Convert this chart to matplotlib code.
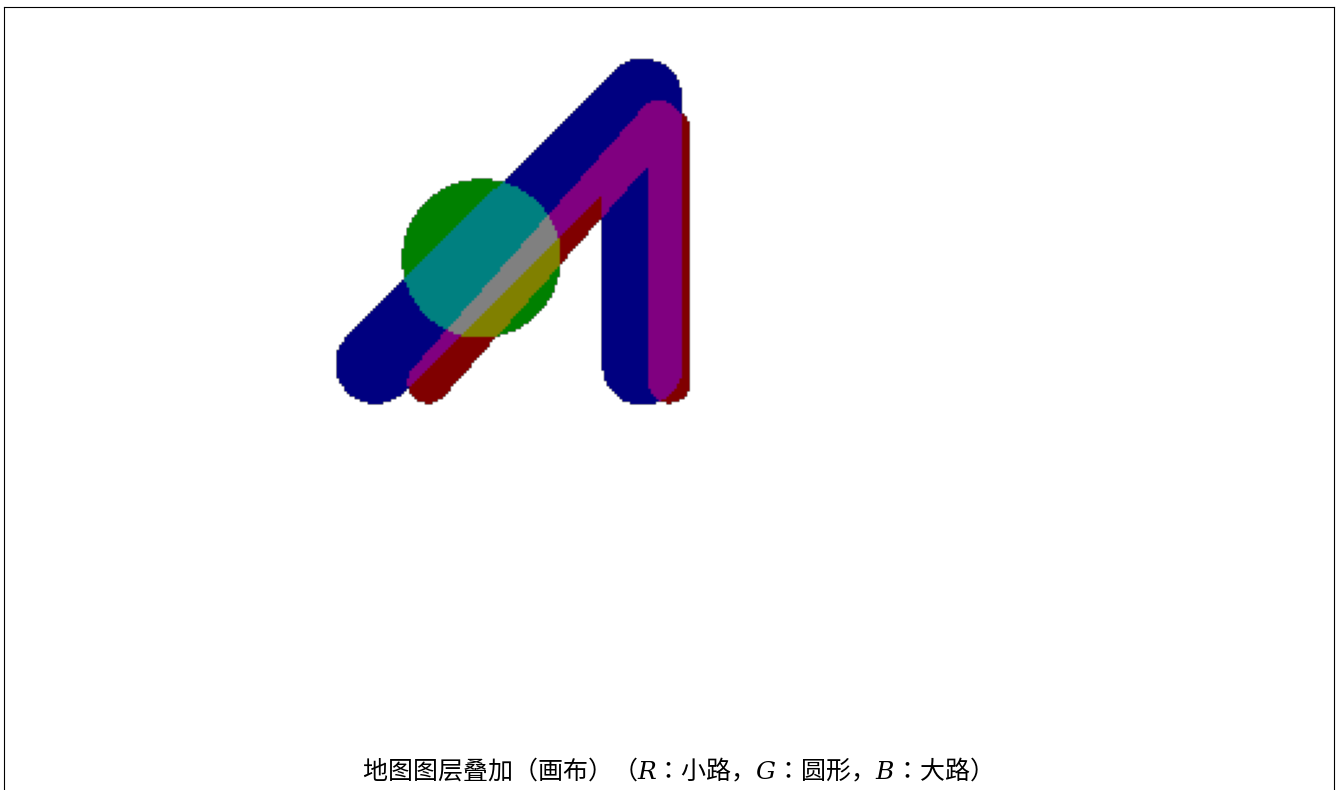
import matplotlib
matplotlib.use("Agg")

import numpy as np
import matplotlib.pyplot as plt

# canvas size (pixels) of the layered map
CANVAS = 512

# road / shape geometry in canvas pixel coordinates (x, y)
big_road = np.array([[142.5, 137.0], [245.3, 34.7], [245.3, 137.5]])
big_road_halfwidth = 15.4
small_road = np.array([[162.9, 144.0], [251.6, 43.6], [255.7, 47.0], [255.7, 144.0]])
small_road_halfwidth = 8.1
circle_center = (183.3, 96.3)
circle_radius = 30.6

channel_value = 128
title = "地图图层叠加（画布）（$R$：小路，$G$：圆形，$B$：大路）"

plt.rcParams["font.family"] = ["Noto Sans CJK JP", "DejaVu Sans"]
plt.rcParams["mathtext.fontset"] = "dejavuserif"

yy, xx = np.mgrid[0:CANVAS, 0:CANVAS].astype(float)


def polyline_mask(pts, hw):
    mask = np.zeros((CANVAS, CANVAS), dtype=bool)
    for (x0, y0), (x1, y1) in zip(pts[:-1], pts[1:]):
        dx, dy = x1 - x0, y1 - y0
        t = ((xx - x0) * dx + (yy - y0) * dy) / (dx * dx + dy * dy)
        t = np.clip(t, 0, 1)
        d = np.hypot(xx - (x0 + t * dx), yy - (y0 + t * dy))
        mask |= d <= hw
    return mask


red = polyline_mask(small_road, small_road_halfwidth)
green = np.hypot(xx - circle_center[0], yy - circle_center[1]) <= circle_radius
blue = polyline_mask(big_road, big_road_halfwidth)

img = np.zeros((CANVAS, CANVAS, 4), dtype=np.uint8)
img[..., 0] = red * channel_value
img[..., 1] = green * channel_value
img[..., 2] = blue * channel_value
img[..., 3] = (red | green | blue) * 255

fig = plt.figure(figsize=(13.41, 7.90), dpi=100)
W, H = 1341, 790
side = 1330
ax = fig.add_axes([3.5 / W, (H - 6.5 - side) / H, side / W, side / H])
ax.imshow(img)
ax.set_xticks([])
ax.set_yticks([])

fig.text(0.5, 1 - 771 / H, title, ha="center", va="center", fontsize=18)

fig.savefig("out.png", dpi=100)
